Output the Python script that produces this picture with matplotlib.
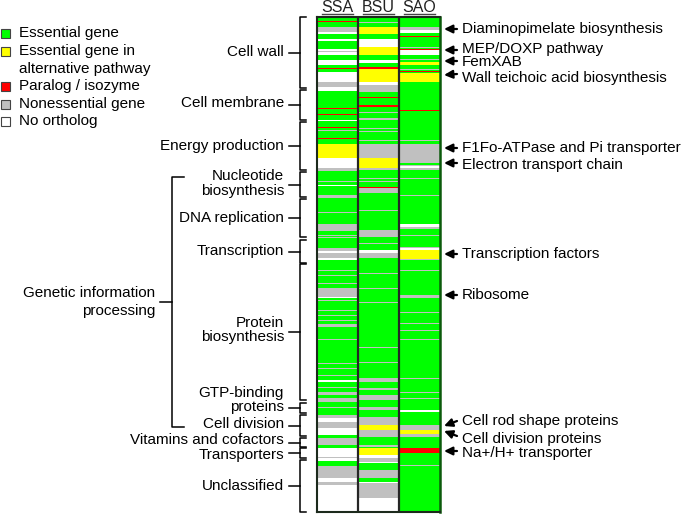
import numpy as np
import matplotlib
matplotlib.use('Agg')
import matplotlib.pyplot as plt
from matplotlib.colors import ListedColormap
from matplotlib.patches import Rectangle

plt.rcParams['font.family'] = ['Liberation Sans', 'DejaVu Sans']
plt.rcParams['font.size'] = 11

# ---- data -------------------------------------------------------------
n_rows = 495
species = ['SSA', 'BSU', 'SAO']

status_codes = 'EAPNO'
status_labels = ['Essential gene', 'Essential gene in\nalternative pathway',
                 'Paralog / isozyme', 'Nonessential gene', 'No ortholog']
status_colors = ['#00ff00', '#ffff00', '#ff0000', '#c0c0c0', '#ffffff']

# each column: "start_row + status letter" for every run of genes
ssa_runs = ('0E 4P 5E 10N 15O 17E 22O 24E 32O 34N 35O 38E 43O 48E 51P 52E 55O 65N 70O 74E '
            '91P 92E 97P 98E 103O 104E 110P 111E 113N 114E 121P 122E 127A 141O 151N 154E '
            '164N 165E 168O 169E 178N 181E 195N 196E 207N 214E 218N 219E 220N 221E 231N '
            '234O 236N 241O 243E 253N 254E 258N 259E 266N 267E 271N 280O 281E 283N 284E '
            '293N 294E 298N 299E 303N 304E 307N 310E 322N 323E 346N 347E 351N 352E 358N '
            '359E 363O 365E 370N 371E 375N 378E 381N 385E 390N 391E 398N 401O 405N 411O '
            '418E 421N 428E 431O 440N 441O 444E 449N 461O 465N 468O')
bsu_runs = ('0E 5N 6E 10A 17E 22O 30A 38E 43O 46E 50P 52A 65O 68N 75E 80P 81E 88P 90E 95N '
            '96E 101N 103E 111N 112E 114N 115E 123N 124E 127N 141A 151N 153E 161N 162E 164N '
            '165E 170P 171N 176E 193N 194E 213N 220E 226N 227E 233O 236N 241E 256N 257E '
            '271N 272E 285N 286E 330N 331E 345N 346E 361N 365E 371N 373E 378N 383E 390N '
            '393E 400N 408A 413N 420E 428N 430E 431A 438O 441N 445O 446E 453N 461E 465O '
            '466N 481O')
sao_runs = ('0E 10N 13O 16E 19P 20E 30N 31E 32P 33O 38E 42N 43E 45A 48E 52N 53E 54P 55E 56A '
            '65E 93P 94E 123N 124E 127N 146E 148N 149O 151N 153E 161N 162E 178N 179E 207O '
            '210N 212E 218N 219E 230N 231O 233A 242N 243E 253N 254E 278N 281E 295N 296E '
            '306N 307E 313N 314E 322N 323E 361N 362E 375N 376E 381N 382E 393O 395E 408N '
            '413A 417N 420E 431P 436E 448N 449E')
column_runs = [ssa_runs, bsu_runs, sao_runs]

# functional categories (row ranges)
cat_names = ['Cell wall', 'Cell membrane', 'Energy production', 'Nucleotide\nbiosynthesis',
             'DNA replication', 'Transcription', 'Protein\nbiosynthesis',
             'GTP-binding\nproteins', 'Cell division', 'Vitamins and cofactors',
             'Transporters', 'Unclassified']
cat_start = [0, 73, 105, 155, 182, 223, 247, 386, 398, 421, 431, 443]
cat_end = [71, 103, 153, 180, 220, 246, 383, 396, 419, 430, 441, 495]
# small nudges of the label text relative to the bracket middle (rows)
cat_text_shift = [0, -2, 0, -1, 0, 0, -2, -8, -2, -3, 2, 0]

group_name = 'Genetic information\nprocessing'
group_span = (160, 410)

# right-hand annotations: text row, arrow head row, arrow tail row
note_texts = ['Diaminopimelate biosynthesis', 'MEP/DOXP pathway', 'FemXAB',
              'Wall teichoic acid biosynthesis', 'F1Fo-ATPase and Pi transporter',
              'Electron transport chain', 'Transcription factors', 'Ribosome',
              'Cell rod shape proteins', 'Cell division proteins', 'Na+/H+ transporter']
note_text_rows = [12, 32, 45, 61, 131, 148, 237, 278, 404, 422, 436]
note_head_rows = [12, 33, 44, 58, 131, 146, 237, 278, 409, 414, 434]
note_tail_rows = [12, 33, 44, 57, 131, 146, 237, 278, 404, 419, 434]

# ---- build matrix ----------------------------------------------------
grid = np.zeros((n_rows, len(species)))
for c, runs in enumerate(column_runs):
    toks = runs.split()
    starts = [int(t[:-1]) for t in toks]
    codes = [t[-1] for t in toks]
    for i, s in enumerate(starts):
        e = starts[i + 1] if i + 1 < len(starts) else n_rows
        grid[s:e, c] = status_codes.index(codes[i])

W, H = 685, 514
fig = plt.figure(figsize=(W / 100, H / 100), dpi=100)

# layout overlay in pixel coords (legend)
lay = fig.add_axes([0, 0, 1, 1])
lay.set_xlim(0, W)
lay.set_ylim(H, 0)
lay.axis('off')

sx0, sx1, sy0, sy1 = 317, 440, 17, 512
ax = fig.add_axes([sx0 / W, (H - sy1) / H, (sx1 - sx0) / W, (sy1 - sy0) / H])
ax.imshow(grid, cmap=ListedColormap(status_colors), vmin=-0.5, vmax=4.5,
          aspect='auto', interpolation='nearest', extent=(-0.5, 2.5, n_rows, 0))
ax.set_xlim(-0.5, 2.5)
ax.set_ylim(n_rows, 0)
ax.set_xticks([])
ax.set_yticks([])
for sp in ['left', 'top', 'bottom']:
    ax.spines[sp].set_color('#1c2a1c')
    ax.spines[sp].set_linewidth(1.5)
ax.spines['right'].set_color('#0b5a0b')
ax.spines['right'].set_linewidth(1.8)
for xb in [0.5, 1.5]:
    ax.axvline(xb, color='#262626', lw=1.6)

# column headers, underlined
for c, name in enumerate(species):
    ax.text(c, -4.8, name, ha='center', va='baseline', fontsize=11.5, color='#222222',
            clip_on=False)
    ax.plot([c - 0.39, c + 0.39], [-3.0, -3.0], color='#444444', lw=1.0, clip_on=False)

bt = ax.get_yaxis_transform()


def fx(px):
    return (px - sx0) / (sx1 - sx0)


# category brackets on the left
for name, s, e, dy in zip(cat_names, cat_start, cat_end, cat_text_shift):
    mid = (s + e) / 2
    ax.plot([fx(306), fx(299.5), fx(299.5), fx(306)], [s, s, e, e], transform=bt,
            color='black', lw=1.1, clip_on=False)
    ax.plot([fx(289), fx(299.5)], [mid, mid], transform=bt, color='black', lw=1.1,
            clip_on=False)
    ax.text(fx(284), mid + dy, name, transform=bt, ha='right', va='center',
            linespacing=1.05, clip_on=False)

gs, ge = group_span
gm = (gs + ge) / 2
ax.plot([fx(184), fx(172), fx(172), fx(184)], [gs, gs, ge, ge], transform=bt,
        color='black', lw=1.1, clip_on=False)
ax.plot([fx(160), fx(172)], [gm, gm], transform=bt, color='black', lw=1.1, clip_on=False)
ax.text(fx(155), gm, group_name, transform=bt, ha='right', va='center',
        linespacing=1.3, clip_on=False)

# right-hand arrows and notes
for txt, tr, hr, tl in zip(note_texts, note_text_rows, note_head_rows, note_tail_rows):
    ax.annotate('', xy=(fx(444), hr), xycoords=bt, xytext=(fx(457), tl), textcoords=bt,
                arrowprops=dict(arrowstyle='-|>,head_length=0.45,head_width=0.22',
                                color='black', lw=1.6, shrinkA=0, shrinkB=0),
                annotation_clip=False)
    ax.text(fx(462), tr, txt, transform=bt, ha='left', va='center', clip_on=False)

# legend
leg_box_y = [33, 51, 86, 104, 121]
leg_text_y = [33, 60, 86, 104, 121]
for lab, col, by, ty in zip(status_labels, status_colors, leg_box_y, leg_text_y):
    lay.add_patch(Rectangle((1, by - 4.5), 9, 9, facecolor=col, edgecolor='#444444', lw=0.8))
    lay.text(19, ty, lab, ha='left', va='center', linespacing=1.3)

fig.savefig('out.png', dpi=100)
